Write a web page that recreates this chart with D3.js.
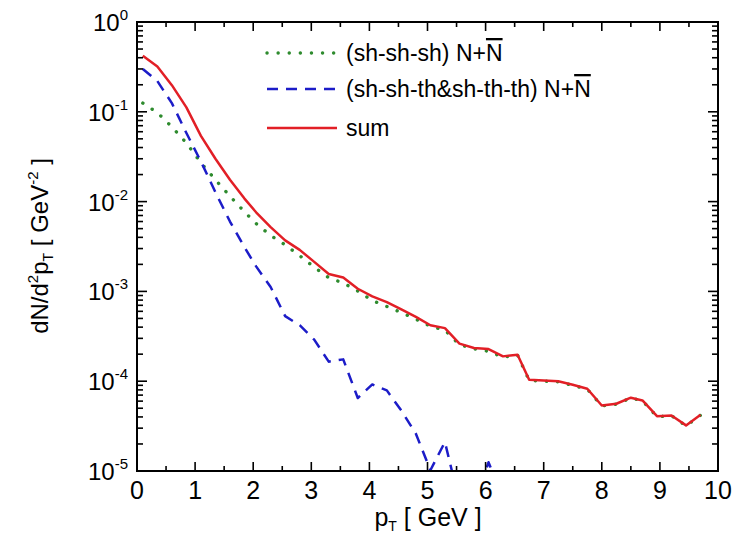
<!DOCTYPE html>
<html>
<head>
<meta charset="utf-8">
<script src="https://cdn.jsdelivr.net/npm/d3@7"></script>
<style>
  body { margin: 0; background: #fff; }
  text { font-family: "Liberation Sans", Arial, sans-serif; fill: #000; }
</style>
</head>
<body>
<script>
const WIDTH = 736
const HEIGHT = 535

// pT grid (GeV)
const PT = [0.1, 0.35, 0.6, 0.85, 1.1, 1.35, 1.6, 1.85, 2.05, 2.3, 2.55, 2.8, 3.05, 3.3, 3.55, 3.8,
  4.05, 4.3, 4.55, 4.8, 5.05, 5.3, 5.55, 5.8, 6.05, 6.3, 6.55, 6.75, 7.0, 7.25, 7.5, 7.75,
  8.0, 8.25, 8.5, 8.7, 8.95, 9.2, 9.45, 9.7]

// (sh-sh-sh) N+Nbar
const SHSHSH = [0.125, 0.098, 0.068, 0.045, 0.027, 0.0175, 0.0115, 0.0077, 0.0057, 0.0042, 0.0033, 0.0025,
  0.00186, 0.00142, 0.00124, 0.00101, 0.00079, 0.00068, 0.00058, 0.00049, 0.00041, 0.00037, 0.000255,
  0.00023, 0.000215, 0.000185, 0.000195, 0.000102, 0.0001, 0.0000985, 0.00009, 0.0000815, 0.000053,
  0.0000555, 0.000065, 0.0000605, 0.0000403, 0.0000412, 0.0000318, 0.0000418]

// (sh-sh-th & sh-th-th) N+Nbar, only up to 6.3 GeV (falls off the plot after)
const SHTH = [0.30, 0.22, 0.125, 0.058, 0.028, 0.0127, 0.0060, 0.0031, 0.0019, 0.00112, 0.00053, 0.00042,
  0.00029, 0.000165, 0.000175, 0.000065, 0.000092, 0.000079, 0.000047, 0.000026, 0.0000102, 0.000021,
  0.0000045, 0.000004, 0.0000125, 0.000005]

// sum
const SUM = [0.42, 0.32, 0.198, 0.112, 0.054, 0.030, 0.0175, 0.0108, 0.0076, 0.0052, 0.0037, 0.0029,
  0.00213, 0.00156, 0.00143, 0.00107, 0.00088, 0.00076, 0.00063, 0.00052, 0.00042, 0.00039, 0.000262,
  0.000234, 0.000228, 0.000189, 0.000197, 0.000104, 0.000102, 0.0001, 0.0000914, 0.0000825, 0.0000537,
  0.0000561, 0.0000655, 0.0000611, 0.0000408, 0.0000416, 0.0000322, 0.0000423]

const X_TICKS = [0, 1, 2, 3, 4, 5, 6, 7, 8, 9, 10]
const Y_EXPONENTS = [0, -1, -2, -3, -4, -5]

const LEFT = 137, RIGHT = 718, TOP = 22, BOTTOM = 471

const svg = d3.select('body')
  .append('svg')
  .attr('width', WIDTH)
  .attr('height', HEIGHT)

const x = d3.scaleLinear().domain([0, 10]).range([LEFT, RIGHT])
const y = d3.scaleLog().domain([1e-5, 1]).range([BOTTOM, TOP])

svg.append('clipPath').attr('id', 'plot')
  .append('rect')
  .attr('x', LEFT).attr('y', TOP)
  .attr('width', RIGHT - LEFT).attr('height', BOTTOM - TOP)

// curves
const line = d3.line()
  .x(d => x(d[0]))
  .y(d => y(d[1]))

const series = [
  { values: SHSHSH, color: '#2e8b2e', dash: '0.1,11', width: 3.4, cap: 'round' },
  { values: SHTH, color: '#1c1cc8', dash: '11,8', width: 2.5, cap: 'butt' },
  { values: SUM, color: '#e21f26', dash: null, width: 2.5, cap: 'butt' },
]

const curves = svg.append('g').attr('clip-path', 'url(#plot)')
curves.selectAll('path')
  .data(series)
  .enter()
  .append('path')
  .attr('d', s => line(s.values.map((v, i) => [PT[i], v])))
  .attr('fill', 'none')
  .attr('stroke', s => s.color)
  .attr('stroke-width', s => s.width)
  .attr('stroke-dasharray', s => s.dash)
  .attr('stroke-linecap', s => s.cap)
  .attr('stroke-linejoin', 'round')

// frame + ticks (inward on all four sides)
const xMinor = d3.range(0.5, 10, 1)
const yMinor = []
Y_EXPONENTS.slice(0, -1).forEach(e => {
  for (let k = 2; k <= 9; k++) yMinor.push(k * Math.pow(10, e - 1))
})

const axes = svg.append('g').attr('stroke', '#000').attr('stroke-width', 1.6)

axes.append('rect')
  .attr('x', LEFT).attr('y', TOP)
  .attr('width', RIGHT - LEFT).attr('height', BOTTOM - TOP)
  .attr('fill', 'none')
  .attr('stroke-width', 2)

const xTickData = X_TICKS.map(v => ({ v, len: 9 })).concat(xMinor.map(v => ({ v, len: 5 })))
axes.selectAll('line.xb')
  .data(xTickData).enter().append('line')
  .attr('x1', d => x(d.v)).attr('x2', d => x(d.v))
  .attr('y1', BOTTOM).attr('y2', d => BOTTOM - d.len)
axes.selectAll('line.xt')
  .data(xTickData).enter().append('line')
  .attr('x1', d => x(d.v)).attr('x2', d => x(d.v))
  .attr('y1', TOP).attr('y2', d => TOP + d.len)

const yTickData = Y_EXPONENTS.map(e => ({ v: Math.pow(10, e), len: 10 })).concat(yMinor.map(v => ({ v, len: 6 })))
axes.selectAll('line.yl')
  .data(yTickData).enter().append('line')
  .attr('y1', d => y(d.v)).attr('y2', d => y(d.v))
  .attr('x1', LEFT).attr('x2', d => LEFT + d.len)
axes.selectAll('line.yr')
  .data(yTickData).enter().append('line')
  .attr('y1', d => y(d.v)).attr('y2', d => y(d.v))
  .attr('x1', RIGHT).attr('x2', d => RIGHT - d.len)

// tick labels
svg.append('g').selectAll('text')
  .data(X_TICKS).enter().append('text')
  .attr('x', d => x(d))
  .attr('y', 499)
  .attr('text-anchor', 'middle')
  .attr('font-size', 25)
  .text(d => d)

const yLabels = svg.append('g').selectAll('text')
  .data(Y_EXPONENTS).enter().append('text')
  .attr('x', 128)
  .attr('y', d => y(Math.pow(10, d)) + 9)
  .attr('text-anchor', 'end')
  .attr('font-size', 24)
yLabels.append('tspan').text('10')
yLabels.append('tspan')
  .attr('font-size', 15)
  .attr('dy', -11)
  .text(d => d === 0 ? '0' : '-' + Math.abs(d))

// axis titles
const xTitle = svg.append('text')
  .attr('x', 428)
  .attr('y', 526)
  .attr('text-anchor', 'middle')
  .attr('font-size', 25)
xTitle.append('tspan').text('p')
xTitle.append('tspan').attr('font-size', 14).attr('dy', 5).text('T')
xTitle.append('tspan').attr('dy', -5).text(' [ GeV ]')

const yTitle = svg.append('text')
  .attr('transform', 'translate(48, 246) rotate(-90)')
  .attr('text-anchor', 'middle')
  .attr('font-size', 24)
yTitle.append('tspan').text('dN/d')
yTitle.append('tspan').attr('font-size', 15).attr('dy', -10).text('2')
yTitle.append('tspan').attr('dy', 10).text('p')
yTitle.append('tspan').attr('font-size', 14).attr('dy', 5).text('T')
yTitle.append('tspan').attr('dy', -5).text(' [ GeV')
yTitle.append('tspan').attr('font-size', 15).attr('dy', -10).text('-2')
yTitle.append('tspan').attr('dy', 10).text(' ]')

// legend
const LEGEND = [
  { label: '(sh-sh-sh) N+', bar: true, s: series[0], y: 53 },
  { label: '(sh-sh-th&sh-th-th) N+', bar: true, s: series[1], y: 89 },
  { label: 'sum', bar: false, s: series[2], y: 128 },
]

const legend = svg.append('g')
legend.selectAll('line')
  .data(LEGEND).enter().append('line')
  .attr('x1', 267).attr('x2', 337)
  .attr('y1', d => d.y).attr('y2', d => d.y)
  .attr('stroke', d => d.s.color)
  .attr('stroke-width', d => d.s.width)
  .attr('stroke-dasharray', d => d.s.dash)
  .attr('stroke-linecap', d => d.s.cap)

const legendText = legend.selectAll('text')
  .data(LEGEND).enter().append('text')
  .attr('x', 346)
  .attr('y', d => d.y + 8)
  .attr('font-size', 23)
legendText.append('tspan').text(d => d.label)
legendText.filter(d => d.bar).append('tspan')
  .attr('text-decoration', 'overline')
  .style('text-decoration', 'overline')
  .text('N')
</script>
</body>
</html>
